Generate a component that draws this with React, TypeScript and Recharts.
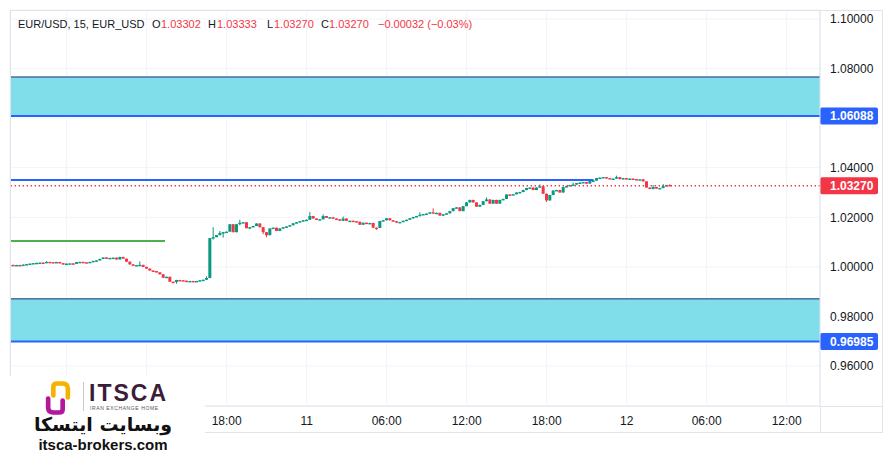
import React from 'react';
import {
  ComposedChart,
  Bar,
  XAxis,
  YAxis,
  CartesianGrid,
  ReferenceLine,
  ReferenceArea,
} from 'recharts';

// ---------- DATA ----------
const firstOpen = 1.00073;
const closes: number[] = [
  1.0008, 1.0007, 1.00075, 1.0006, 1.0009, 1.0011, 1.0013, 1.0015, 1.0016, 1.0017,
  1.00165, 1.002, 1.0019, 1.0018, 1.00195, 1.0015, 1.001, 1.0013, 1.0014, 1.0012,
  1.0019, 1.002, 1.00185, 1.0018, 1.002, 1.0024, 1.0026, 1.0032, 1.0038, 1.0034,
  1.0036, 1.0037, 1.003, 1.004, 1.0033, 1.0021, 1.001, 1.0005, 1.0007, 1.0008,
  1.0, 0.9993, 0.9985, 0.9983, 0.9978, 0.997, 0.9956, 0.996, 0.994, 0.9939,
  0.9947, 0.9946, 0.9944, 0.9942, 0.9943, 0.9942, 0.9943, 0.9946, 0.9948, 0.9955,
  1.0116, 1.012, 1.0128, 1.0137, 1.014, 1.0142, 1.0172, 1.014, 1.0172, 1.0178,
  1.018, 1.0156, 1.016, 1.0165, 1.0175, 1.016, 1.014, 1.0128, 1.0155, 1.0158,
  1.0145, 1.0155, 1.016, 1.0163, 1.0168, 1.0176, 1.018, 1.0184, 1.0188, 1.019,
  1.0205, 1.0195, 1.019, 1.0192, 1.0205, 1.0198, 1.02, 1.0195, 1.0192, 1.0186,
  1.0195, 1.0186, 1.0186, 1.0184, 1.0182, 1.017, 1.0178, 1.0175, 1.0177, 1.0158,
  1.0157, 1.0185, 1.0188, 1.0196, 1.0188, 1.0184, 1.018, 1.0181, 1.0186, 1.019,
  1.0196, 1.0201, 1.0205, 1.021, 1.0213, 1.0215, 1.022, 1.0217, 1.0218, 1.0207,
  1.0212, 1.0216, 1.0225, 1.0237, 1.024, 1.0225, 1.0245, 1.026, 1.027, 1.026,
  1.0243, 1.025, 1.0265, 1.0272, 1.0255, 1.027, 1.0255, 1.027, 1.0274, 1.0292,
  1.029, 1.0293, 1.03, 1.0302, 1.031, 1.0318, 1.032, 1.031, 1.032, 1.0325,
  1.0295, 1.0268, 1.029, 1.0308, 1.031, 1.03, 1.0322, 1.0326, 1.033, 1.0332,
  1.0338, 1.034, 1.0342, 1.0336, 1.0346, 1.0348, 1.0358, 1.036, 1.0362, 1.0358,
  1.0355, 1.0356, 1.0362, 1.0354, 1.0358, 1.0355, 1.0356, 1.0354, 1.0352, 1.0353,
  1.0345, 1.032, 1.0314, 1.0322, 1.0316, 1.0318, 1.0326, 1.03302, 1.0327,
];
const wickHighs: Record<number, number> = {
  11: 1.0023, 39: 1.0022, 59: 0.9962, 61: 1.016, 63: 1.0145, 69: 1.019,
  90: 1.0221, 94: 1.0212, 100: 1.0203, 123: 1.022, 127: 1.0236, 143: 1.028,
  159: 1.0333, 169: 1.034, 175: 1.0352, 182: 1.0368, 193: 1.033, 196: 1.0334,
  198: 1.03333,
};
const wickLows: Record<number, number> = {
  50: 0.9932, 61: 1.011, 64: 1.0118, 69: 1.0168, 72: 1.0152, 76: 1.0132,
  77: 1.012, 110: 1.015, 161: 1.0262, 198: 1.0327,
};

// bar index of each time gridline; the first two labels sit under the logo and are not shown
const timeTicks = [17, 41, 65, 89, 113, 137, 161, 185, 209, 233];
const timeLabels = ['', '', '18:00', '11', '06:00', '12:00', '18:00', '12', '06:00', '12:00'];
const priceTicks = [0.96, 0.98, 1.0, 1.02, 1.04, 1.06, 1.08, 1.1];
const hiddenPriceTicks = [1.06];
const priceDomain = [0.94387, 1.10363];
const barDomain = [0, 243];

const upperZone = [1.06088, 1.07661];
const lowerZone = [0.96985, 0.9871];
const resistanceLevel = 1.035;
const resistanceEndBar = 175;
const greenLevel = 1.01048;
const greenEndBar = 46.5;
const lastPrice = 1.0327;

const legendTitle = 'EUR/USD, 15, EUR_USD';
const legendOHLC = { O: '1.03302', H: '1.03333', L: '1.03270', C: '1.03270' };
const legendChange = '\u22120.00032 (\u22120.03%)';

// ---------- COLORS ----------
const UP = '#089981';
const DOWN = '#f23645';
const BLUE = '#2962ff';
const NAVY = '#1c2a7a';
const ZONE = '#80deea';
const GRID = '#f0f3fa';
const BORDER = '#e0e3eb';
const TEXT = '#131722';
const FONT = 'Liberation Sans, Arial, sans-serif';

const candles = closes.map((c, i) => {
  const o = i === 0 ? firstOpen : closes[i - 1];
  const h = wickHighs[i] ?? Math.max(o, c) + 0.00008;
  const l = wickLows[i] ?? Math.min(o, c) - 0.00008;
  return { t: i, o, h, l, c, range: [l, h] };
});

const Candle = (props: any) => {
  const { x, y, width, height, payload } = props;
  if (x == null || y == null || !payload) return null;
  const { o, h, l, c } = payload;
  const top = Math.min(y, y + height);
  const hh = Math.abs(height);
  const k = hh / (h - l);
  const cx = x + width / 2;
  const color = c >= o ? UP : DOWN;
  const bTop = top + (h - Math.max(o, c)) * k;
  const bH = Math.max(1.4, Math.abs(o - c) * k);
  return (
    <g>
      <line x1={cx} x2={cx} y1={top} y2={top + hh} stroke={color} strokeWidth={1} />
      <rect x={cx - 1.5} y={bTop} width={3} height={bH} fill={color} />
    </g>
  );
};

const priceTag = (value: number, color: string) => (props: any) => {
  const vb = props.viewBox;
  if (!vb) return null;
  const x = vb.x + vb.width;
  const y = vb.y;
  return (
    <g>
      <rect x={x} y={y - 8.5} width={58} height={17} rx={2} fill={color} />
      <text x={x + 10} y={y} dy="0.36em" fill="#ffffff" fontSize={12} fontFamily={FONT} fontWeight={700}>
        {value.toFixed(5)}
      </text>
    </g>
  );
};

const abs = (s: React.CSSProperties): React.CSSProperties => ({ position: 'absolute', ...s });
const legendStyle = (left: number, color: string): React.CSSProperties =>
  abs({ left, top: 10, fontSize: 11, lineHeight: '13px', color, whiteSpace: 'nowrap' });

export default function App() {
  return (
    <div style={{ position: 'relative', width: 878, height: 460, fontFamily: FONT }}>
      <ComposedChart
        width={878}
        height={460}
        data={candles}
        margin={{ top: 2, left: 2, right: 3, bottom: 35 }}
      >
        <CartesianGrid stroke={GRID} strokeWidth={1} />
        <XAxis
          dataKey="t"
          type="number"
          domain={barDomain}
          ticks={timeTicks}
          interval={0}
          allowDataOverflow
          height={27}
          tickLine={false}
          tickMargin={4}
          axisLine={{ stroke: BORDER }}
          tick={{ fill: TEXT, fontSize: 12, fontFamily: FONT }}
          tickFormatter={(v: number) => timeLabels[timeTicks.indexOf(v)] ?? ''}
        />
        <YAxis
          orientation="right"
          type="number"
          domain={priceDomain}
          ticks={priceTicks}
          interval={0}
          allowDataOverflow
          width={63}
          tickLine={false}
          tickMargin={4}
          axisLine={{ stroke: BORDER }}
          tick={{ fill: TEXT, fontSize: 12, fontFamily: FONT, textAnchor: 'start' }}
          tickFormatter={(v: number) => (hiddenPriceTicks.includes(v) ? '' : v.toFixed(5))}
        />
        <ReferenceArea y1={upperZone[0]} y2={upperZone[1]} fill={ZONE} fillOpacity={1} stroke="none" />
        <ReferenceArea y1={lowerZone[0]} y2={lowerZone[1]} fill={ZONE} fillOpacity={1} stroke="none" />
        <ReferenceLine y={upperZone[1]} stroke={NAVY} strokeWidth={1} />
        <ReferenceLine y={lowerZone[1]} stroke={NAVY} strokeWidth={1} />
        <ReferenceLine
          segment={[{ x: 0, y: greenLevel }, { x: greenEndBar, y: greenLevel }]}
          stroke="#4caf50"
          strokeWidth={2}
        />
        <ReferenceLine
          segment={[{ x: 0, y: resistanceLevel }, { x: resistanceEndBar, y: resistanceLevel }]}
          stroke={BLUE}
          strokeWidth={2}
        />
        <ReferenceLine y={lastPrice} stroke={DOWN} strokeWidth={1.6} strokeDasharray="1.4 2.6" label={priceTag(lastPrice, DOWN)} />
        <Bar dataKey="range" barSize={3} isAnimationActive={false} shape={(p: any) => <Candle {...p} />} />
        <ReferenceLine y={upperZone[0]} stroke={BLUE} strokeWidth={2} label={priceTag(upperZone[0], BLUE)} />
        <ReferenceLine y={lowerZone[0]} stroke={BLUE} strokeWidth={2} label={priceTag(lowerZone[0], BLUE)} />
      </ComposedChart>

      {/* frame */}
      <div style={abs({ left: 2, top: 2, width: 873, height: 423, border: `1px solid ${BORDER}`, boxSizing: 'border-box', pointerEvents: 'none' })} />
      <div style={abs({ left: 812, top: 398, width: 63, height: 1, background: BORDER })} />
      <div style={abs({ left: 812, top: 398, width: 1, height: 27, background: BORDER })} />

      {/* legend */}
      <div style={legendStyle(10, TEXT)}>{legendTitle}</div>
      <div style={legendStyle(144, TEXT)}>O</div>
      <div style={legendStyle(153, DOWN)}>{legendOHLC.O}</div>
      <div style={legendStyle(200, TEXT)}>H</div>
      <div style={legendStyle(209, DOWN)}>{legendOHLC.H}</div>
      <div style={legendStyle(259, TEXT)}>L</div>
      <div style={legendStyle(266, DOWN)}>{legendOHLC.L}</div>
      <div style={legendStyle(313, TEXT)}>C</div>
      <div style={legendStyle(321, DOWN)}>{legendOHLC.C}</div>
      <div style={legendStyle(370, DOWN)}>{legendChange}</div>

      {/* logo */}
      <div style={abs({ left: -8, top: 368, width: 205, height: 94, background: '#ffffff' })}>
        <svg style={abs({ left: 44, top: 4 })} width={28} height={36} viewBox="0 0 27 33">
          <path d="M9 14 L9 6 Q9 2.5 12.5 2.5 L18 2.5 Q23 2.5 23 7.5 L23 16" stroke="#f5b301" strokeWidth={4.5} fill="none" strokeLinecap="round" />
          <path d="M18 19 L18 27 Q18 30.5 14.5 30.5 L9 30.5 Q4 30.5 4 25.5 L4 17" stroke="#b3179b" strokeWidth={4.5} fill="none" strokeLinecap="round" />
        </svg>
        <div style={abs({ left: 83, top: 6, width: 1, height: 29, background: '#c8c8c8' })} />
        <div style={abs({ left: 89, top: 4, fontSize: 23, fontWeight: 700, color: '#3b1d39', letterSpacing: 2, fontFamily: 'Liberation Sans Narrow, Liberation Sans, sans-serif', lineHeight: '26px' })}>ITSCA</div>
        <div style={abs({ left: 90, top: 29, fontSize: 5, color: '#555', letterSpacing: 0.6, whiteSpace: 'nowrap', lineHeight: '6px' })}>IRAN EXCHANGE HOME</div>
        <div dir="rtl" style={abs({ left: 26, width: 154, top: 35, textAlign: 'center', fontSize: 19, fontWeight: 700, color: '#111', fontFamily: 'DejaVu Sans, sans-serif', lineHeight: '26px', whiteSpace: 'nowrap' })}>وبسایت ایتسکا</div>
        <div style={abs({ left: 26, width: 154, top: 60, textAlign: 'center', fontSize: 15, fontWeight: 700, color: '#111', lineHeight: '18px', whiteSpace: 'nowrap' })}>itsca-brokers.com</div>
      </div>
    </div>
  );
}
